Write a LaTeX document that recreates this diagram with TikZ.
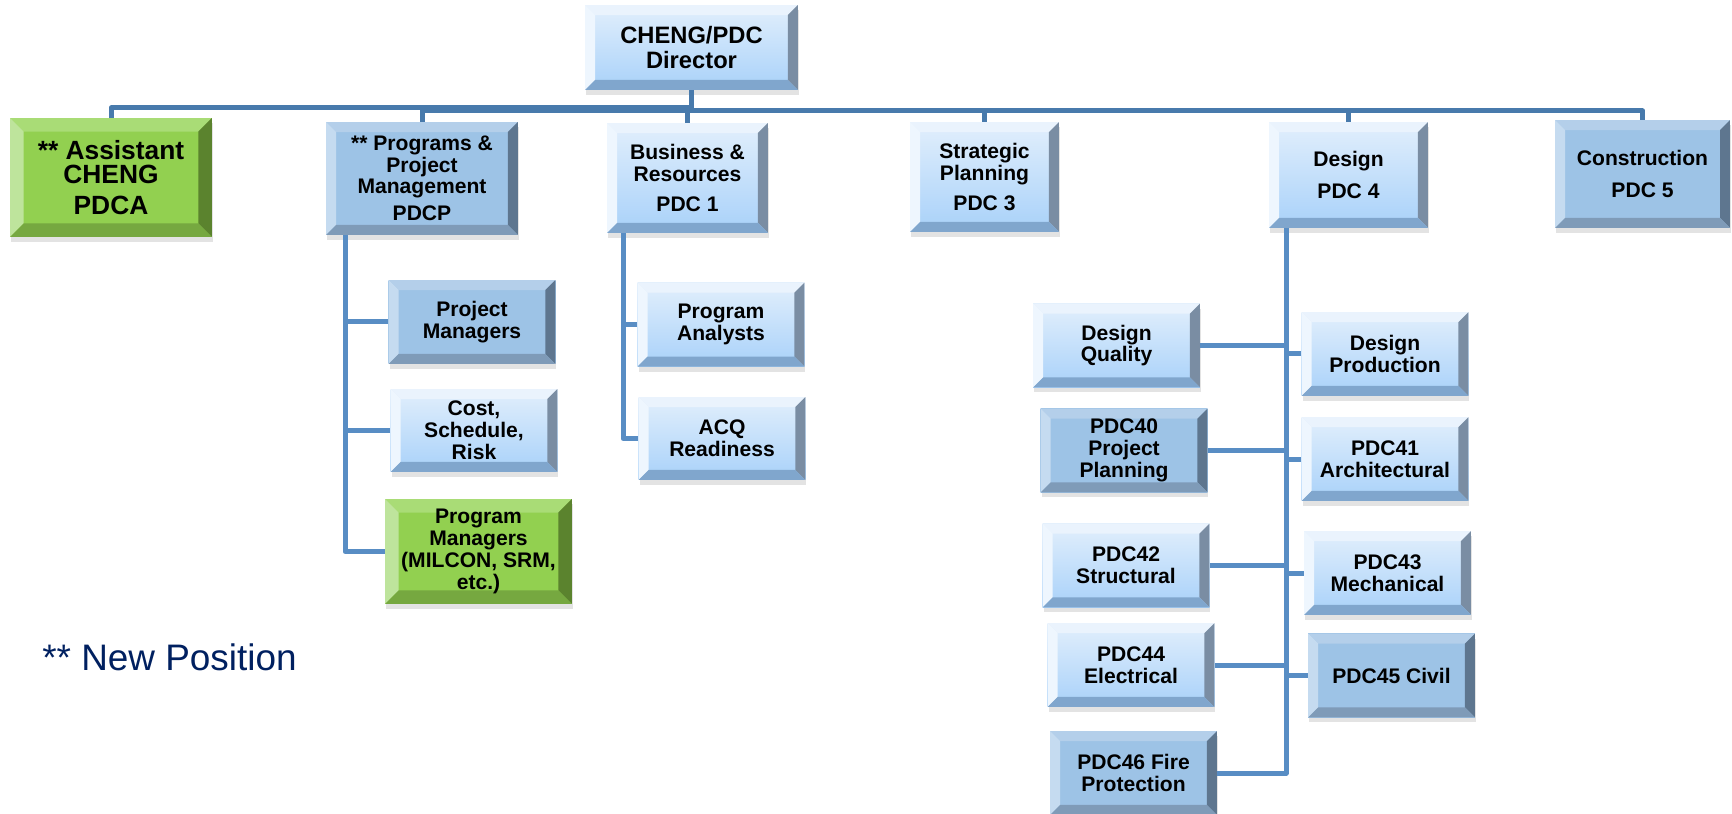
\documentclass[tikz,border=0pt]{standalone}
\usepackage{fontspec}
\setmainfont{Liberation Sans}
\usepackage{xcolor}
\usepackage{tikz}
\usetikzlibrary{positioning, calc, shadows}
\definecolor{busblue}{RGB}{72, 122, 172}
\definecolor{linkblue}{RGB}{88, 141, 196}
\definecolor{notenavy}{RGB}{0, 32, 96}
\definecolor{lightfaceA}{RGB}{226, 239, 252}
\definecolor{lightfaceB}{RGB}{168, 209, 249}
\definecolor{lighttop}{RGB}{234, 243, 253}
\definecolor{lightleft}{RGB}{238, 246, 254}
\definecolor{lightright}{RGB}{122, 141, 163}
\definecolor{lightbottom}{RGB}{128, 166, 205}
\definecolor{midface}{RGB}{157, 195, 230}
\definecolor{midtop}{RGB}{180, 207, 234}
\definecolor{midleft}{RGB}{197, 219, 240}
\definecolor{midright}{RGB}{94, 118, 143}
\definecolor{midbottom}{RGB}{127, 155, 184}
\definecolor{greenface}{RGB}{146, 208, 80}
\definecolor{greentop}{RGB}{169, 220, 118}
\definecolor{greenleft}{RGB}{190, 228, 156}
\definecolor{greenright}{RGB}{91, 131, 46}
\definecolor{greenbottom}{RGB}{118, 168, 64}
\newcommand{\orgtopfont}{\fontsize{12}{12.2}\selectfont\bfseries}
\newcommand{\orgsubfont}{\fontsize{12}{12.4}\selectfont\bfseries}
% face top, face bottom, top edge, left edge, right edge, bottom edge
\newcommand{\bevelpaint}[6]{%
  \shade[top color=#1, bottom color=#2] (path picture bounding box.south west) rectangle (path picture bounding box.north east);
  \fill[#3] (path picture bounding box.north west) -- (path picture bounding box.north east)
    -- ([xshift=-\bvw, yshift=-\bvw]path picture bounding box.north east)
    -- ([xshift=\bvw, yshift=-\bvw]path picture bounding box.north west) -- cycle;
  \fill[#4] (path picture bounding box.north west) -- ([xshift=\bvw, yshift=-\bvw]path picture bounding box.north west)
    -- ([xshift=\bvw, yshift=\bvw]path picture bounding box.south west) -- (path picture bounding box.south west) -- cycle;
  \fill[#5] (path picture bounding box.north east) -- (path picture bounding box.south east)
    -- ([xshift=-\bvw, yshift=\bvw]path picture bounding box.south east)
    -- ([xshift=-\bvw, yshift=-\bvw]path picture bounding box.north east) -- cycle;
  \fill[#6] (path picture bounding box.south west) -- ([xshift=\bvw, yshift=\bvw]path picture bounding box.south west)
    -- ([xshift=-\bvw, yshift=\bvw]path picture bounding box.south east) -- (path picture bounding box.south east) -- cycle;
}
\tikzset{bevel width/.store in=\bvw, bevel width=0.2cm}

\begin{document}
\begin{tikzpicture}[x=0.02cm, y=-0.02cm,
    orgbox/.style={rectangle, inner sep=0pt, align=center, font=\orgsubfont,
      minimum width=3.34cm, minimum height=1.68cm,
      drop shadow={shadow xshift=0.02cm, shadow yshift=-0.1cm, opacity=0.22}},
    lightbox/.style={orgbox, path picture={\bevelpaint{lightfaceA}{lightfaceB}{lighttop}{lightleft}{lightright}{lightbottom}}},
    midbox/.style={orgbox, path picture={\bevelpaint{midface}{midface}{midtop}{midleft}{midright}{midbottom}}},
    greenbox/.style={orgbox, bevel width=0.27cm, path picture={\bevelpaint{greenface}{greenface}{greentop}{greenleft}{greenright}{greenbottom}}},
    headbox/.style={font=\orgtopfont},
    busline/.style={draw=busblue, line width=0.1cm, line join=round},
    linkline/.style={draw=linkblue, line width=0.1cm, line join=round}]
    \path[use as bounding box, fill=white] (0,0) rectangle (1732,814);

    % top row
    \node[lightbox, font=\fontsize{13.5}{13.8}\selectfont\bfseries, minimum width=4.26cm, minimum height=1.7cm] (director) at (691.5,47.5) {CHENG/PDC\\Director};
    \node[greenbox, font=\fontsize{15}{13.6}\selectfont\bfseries, minimum width=4.04cm, minimum height=2.38cm] (assistant) at (111,177.5) {** Assistant\\CHENG\\[4pt]PDCA};
    \node[midbox, headbox, minimum width=3.84cm, minimum height=2.26cm] (pdcp) at (422,178.5) {** Programs \&\\Project\\Management\\[3pt]PDCP};
    \node[lightbox, headbox, minimum width=3.22cm, minimum height=2.2cm] (pdc1) at (687.5,178) {Business \&\\Resources\\[5pt]PDC 1};
    \node[lightbox, headbox, minimum width=2.98cm, minimum height=2.2cm] (pdc3) at (984.5,177) {Strategic\\Planning\\[5pt]PDC 3};
    \node[lightbox, headbox, minimum width=3.18cm, minimum height=2.12cm] (pdc4) at (1348.5,175) {Design\\[6pt]PDC 4};
    \node[midbox, headbox, minimum width=3.5cm, minimum height=2.16cm] (pdc5) at (1642.5,174) {Construction\\[6pt]PDC 5};

    % programs & project management
    \node[midbox] (prjmgr) at (472,322) {Project\\Managers};
    \node[lightbox, minimum height=1.66cm] (cost) at (474,430.5) {Cost,\\Schedule,\\Risk};
    \node[greenbox, minimum width=3.74cm, minimum height=2.1cm] (pgmmgr) at (478.5,551.5) {Program\\Managers\\(MILCON, SRM,\\etc.)};

    % business & resources
    \node[lightbox] (analysts) at (721,324.7) {Program\\Analysts};
    \node[lightbox, minimum height=1.66cm] (acq) at (722,438.5) {ACQ\\Readiness};

    % design
    \node[lightbox] (dq) at (1116.5,345.5) {Design\\Quality};
    \node[lightbox] (dp) at (1385,354) {Design\\Production};
    \node[midbox] (pdc40) at (1124,450.5) {PDC40\\Project\\Planning};
    \node[lightbox] (pdc41) at (1385,459) {PDC41\\Architectural};
    \node[lightbox] (pdc42) at (1126,565.5) {PDC42\\Structural};
    \node[lightbox] (pdc43) at (1387.5,573) {PDC43\\Mechanical};
    \node[lightbox] (pdc44) at (1131,665) {PDC44\\Electrical};
    \node[midbox] (pdc45) at (1391.5,675.5) {PDC45 Civil};
    \node[midbox] (pdc46) at (1133.5,773) {PDC46 Fire\\Protection};

    \node[anchor=base west, inner sep=0pt, text=notenavy, font=\fontsize{21}{25}\selectfont] (newpos) at (42,670) {** New Position};

    % connectors
    \coordinate (upbus) at (0,108);
    \coordinate (lowbus) at (0,111);
    \coordinate (ptrunk) at (345,0);
    \coordinate (btrunk) at (623,0);
    \coordinate (dtrunk) at (1286,0);

    \draw[busline] (director.south) -- (director.south |- lowbus);
    \draw[busline] (assistant.north) -- (assistant.north |- upbus) -- (director.south |- upbus);
    \draw[busline] (pdcp.north) -- (pdcp.north |- lowbus) -- (pdc5.north |- lowbus) -- (pdc5.north);
    \foreach \n in {pdc1, pdc3, pdc4}
        \draw[busline] (\n.north) -- (\n.north |- lowbus);

    \draw[linkline] (pdcp.south -| ptrunk) -- (pgmmgr.west -| ptrunk) -- (pgmmgr.west);
    \foreach \n in {prjmgr, cost}
        \draw[linkline] (\n.west) -- (\n.west -| ptrunk);

    \draw[linkline] (pdc1.south -| btrunk) -- (acq.west -| btrunk) -- (acq.west);
    \draw[linkline] (analysts.west) -- (analysts.west -| btrunk);

    \draw[linkline] (pdc4.south -| dtrunk) -- (pdc46.east -| dtrunk) -- (pdc46.east);
    \foreach \n in {dq, pdc40, pdc42, pdc44}
        \draw[linkline] (\n.east) -- (\n.east -| dtrunk);
    \foreach \n in {dp, pdc41, pdc43, pdc45}
        \draw[linkline] (\n.west) -- (\n.west -| dtrunk);
\end{tikzpicture}
\end{document}
